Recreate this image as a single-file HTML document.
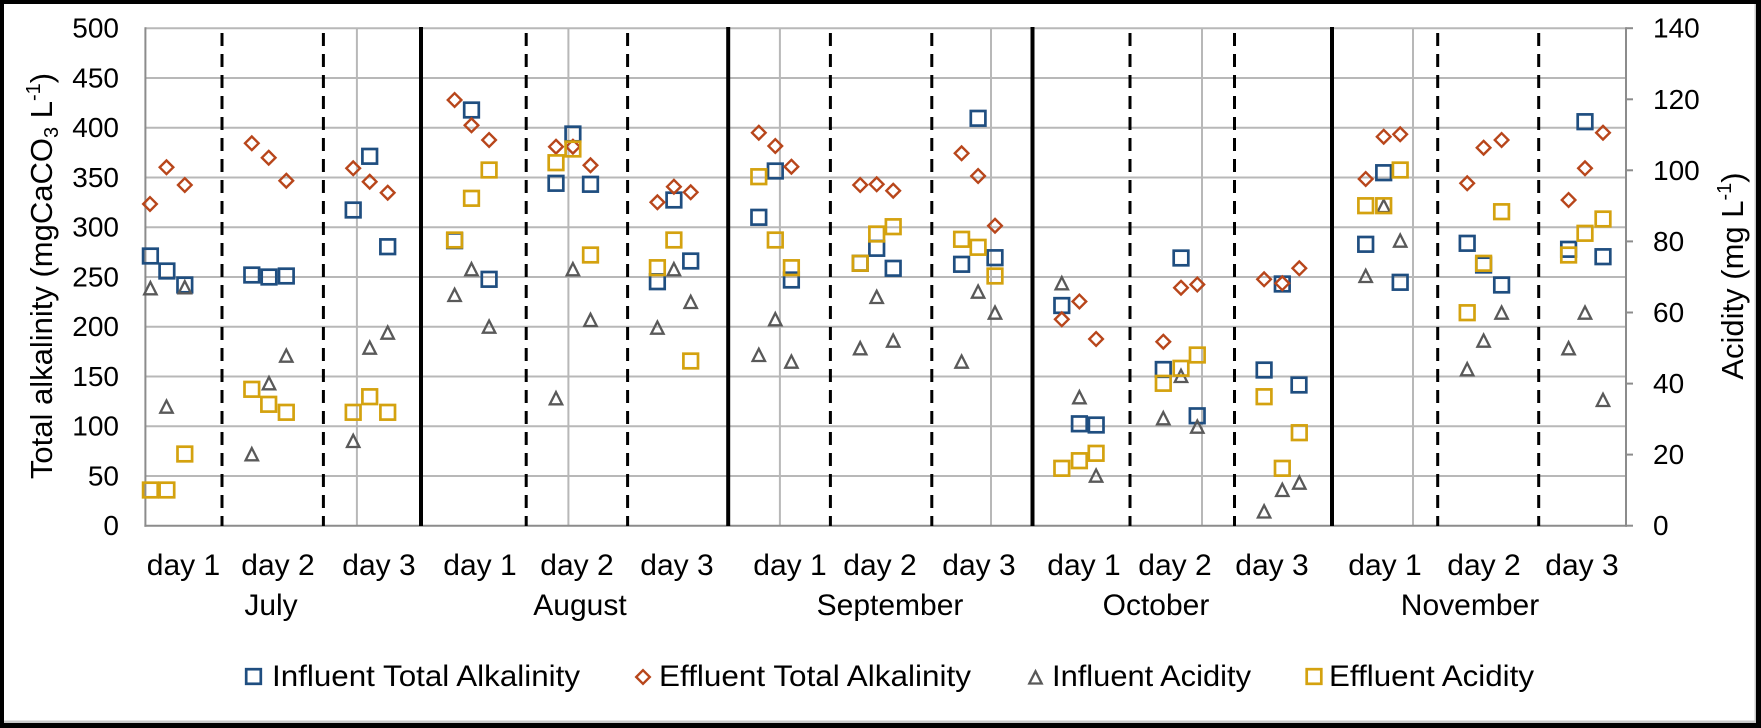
<!DOCTYPE html>
<html><head><meta charset="utf-8">
<style>
html,body{margin:0;padding:0;background:#000;}
svg{display:block;}
text{font-family:"Liberation Sans",Arial,sans-serif;fill:#000;}
</style></head>
<body>
<svg width="1761" height="728" viewBox="0 0 1761 728" xmlns="http://www.w3.org/2000/svg">
<defs>
<g id="bs"><rect x="-7.3" y="-7.3" width="14.6" height="14.6" fill="none" stroke="#1F4E80" stroke-width="2.7"/></g>
<g id="ys"><rect x="-7.3" y="-7.3" width="14.6" height="14.6" fill="none" stroke="#D4A20F" stroke-width="2.7"/></g>
<g id="dm"><path d="M0,-6.8 L6.8,0 L0,6.8 L-6.8,0 Z" fill="none" stroke="#B8461B" stroke-width="2.4"/></g>
<g id="tr"><path d="M0,-6.2 L6.2,6 L-6.2,6 Z" fill="none" stroke="#595959" stroke-width="2.3" stroke-linejoin="miter"/></g>
</defs>
<rect x="0" y="0" width="1761" height="728" fill="#000"/>
<rect x="4" y="4" width="1752" height="719" fill="#fff"/>
<rect x="4" y="720.5" width="1752" height="2.5" fill="#c8c8c8"/>
<rect x="1754.5" y="4" width="1.5" height="719" fill="#c8c8c8"/>

<!-- horizontal gridlines -->
<g stroke="#B8B8B8" stroke-width="2">
<line x1="145.4" y1="28.2" x2="1626" y2="28.2"/>
<line x1="145.4" y1="77.95" x2="1626" y2="77.95"/>
<line x1="145.4" y1="127.7" x2="1626" y2="127.7"/>
<line x1="145.4" y1="177.45" x2="1626" y2="177.45"/>
<line x1="145.4" y1="227.2" x2="1626" y2="227.2"/>
<line x1="145.4" y1="276.95" x2="1626" y2="276.95"/>
<line x1="145.4" y1="326.7" x2="1626" y2="326.7"/>
<line x1="145.4" y1="376.45" x2="1626" y2="376.45"/>
<line x1="145.4" y1="426.2" x2="1626" y2="426.2"/>
<line x1="145.4" y1="475.95" x2="1626" y2="475.95"/>
<!-- vertical gridlines -->
<line x1="356.9" y1="28.2" x2="356.9" y2="525.7"/>
<line x1="568.4" y1="28.2" x2="568.4" y2="525.7"/>
<line x1="779.9" y1="28.2" x2="779.9" y2="525.7"/>
<line x1="991" y1="28.2" x2="991" y2="525.7"/>
<line x1="1202" y1="28.2" x2="1202" y2="525.7"/>
<line x1="1413" y1="28.2" x2="1413" y2="525.7"/>
</g>
<!-- axes -->
<g stroke="#8C8C8C" stroke-width="2">
<line x1="145.4" y1="27.2" x2="145.4" y2="526.7"/>
<line x1="144.4" y1="525.7" x2="1627" y2="525.7"/>
<line x1="1626" y1="27.2" x2="1626" y2="526.7"/>
<line x1="1626" y1="28.2" x2="1633" y2="28.2"/>
<line x1="1626" y1="99.3" x2="1633" y2="99.3"/>
<line x1="1626" y1="170.3" x2="1633" y2="170.3"/>
<line x1="1626" y1="241.4" x2="1633" y2="241.4"/>
<line x1="1626" y1="312.5" x2="1633" y2="312.5"/>
<line x1="1626" y1="383.6" x2="1633" y2="383.6"/>
<line x1="1626" y1="454.6" x2="1633" y2="454.6"/>
<line x1="1626" y1="525.7" x2="1633" y2="525.7"/>
</g>

<!-- month separators -->
<g stroke="#000" stroke-width="4">
<line x1="421" y1="27" x2="421" y2="526"/>
<line x1="728.2" y1="27" x2="728.2" y2="526"/>
<line x1="1032.5" y1="27" x2="1032.5" y2="526"/>
<line x1="1332" y1="27" x2="1332" y2="526"/>
</g>
<g stroke="#000" stroke-width="3" stroke-dasharray="13 8">
<line x1="222" y1="33" x2="222" y2="526"/>
<line x1="323.4" y1="33" x2="323.4" y2="526"/>
<line x1="526.2" y1="33" x2="526.2" y2="526"/>
<line x1="627.6" y1="33" x2="627.6" y2="526"/>
<line x1="830.4" y1="33" x2="830.4" y2="526"/>
<line x1="931.8" y1="33" x2="931.8" y2="526"/>
<line x1="1130" y1="33" x2="1130" y2="526"/>
<line x1="1234.5" y1="33" x2="1234.5" y2="526"/>
<line x1="1437.7" y1="33" x2="1437.7" y2="526"/>
<line x1="1538.7" y1="33" x2="1538.7" y2="526"/>
</g>

<!-- left tick labels -->
<g font-size="28" text-anchor="end">
<text x="119" y="535.2">0</text>
<text x="119" y="485.5">50</text>
<text x="119" y="435.7">100</text>
<text x="119" y="386">150</text>
<text x="119" y="336.2">200</text>
<text x="119" y="286.5">250</text>
<text x="119" y="236.7">300</text>
<text x="119" y="187">350</text>
<text x="119" y="137.2">400</text>
<text x="119" y="87.5">450</text>
<text x="119" y="37.7">500</text>
</g>
<!-- right tick labels -->
<g font-size="28" text-anchor="start">
<text x="1653" y="535.2">0</text>
<text x="1653" y="464.1">20</text>
<text x="1653" y="393.1">40</text>
<text x="1653" y="322">60</text>
<text x="1653" y="250.9">80</text>
<text x="1653" y="179.8">100</text>
<text x="1653" y="108.8">120</text>
<text x="1653" y="37.7">140</text>
</g>

<!-- axis titles -->
<text font-size="31" text-anchor="middle" transform="translate(52,276) rotate(-90)">Total alkalinity (mgCaCO<tspan font-size="20" dy="6">3</tspan><tspan dy="-6"> L</tspan><tspan font-size="20" dy="-12">-1</tspan><tspan dy="12">)</tspan></text>
<text font-size="31" text-anchor="middle" transform="translate(1743,276) rotate(-90)">Acidity (mg L<tspan font-size="20" dy="-12">-1</tspan><tspan dy="12">)</tspan></text>

<!-- day labels -->
<g font-size="30" text-anchor="middle">
<text x="183.5" y="575">day 1</text>
<text x="278" y="575">day 2</text>
<text x="379" y="575">day 3</text>
<text x="480" y="575">day 1</text>
<text x="577" y="575">day 2</text>
<text x="677" y="575">day 3</text>
<text x="790" y="575">day 1</text>
<text x="880" y="575">day 2</text>
<text x="979" y="575">day 3</text>
<text x="1084" y="575">day 1</text>
<text x="1175" y="575">day 2</text>
<text x="1272" y="575">day 3</text>
<text x="1385" y="575">day 1</text>
<text x="1484" y="575">day 2</text>
<text x="1582" y="575">day 3</text>
<text x="271" y="615">July</text>
<text x="580" y="615">August</text>
<text x="890" y="615">September</text>
<text x="1156" y="615">October</text>
<text x="1470" y="615">November</text>
</g>

<!-- legend -->
<use href="#bs" x="253.5" y="676.5"/>
<text x="272" y="686" font-size="30" textLength="308" lengthAdjust="spacingAndGlyphs">Influent Total Alkalinity</text>
<use href="#dm" x="643" y="677"/>
<text x="659" y="686" font-size="30" textLength="312" lengthAdjust="spacingAndGlyphs">Effluent Total Alkalinity</text>
<use href="#tr" x="1035.5" y="677.5"/>
<text x="1052" y="686" font-size="30" textLength="199" lengthAdjust="spacingAndGlyphs">Influent Acidity</text>
<use href="#ys" x="1314" y="676.5"/>
<text x="1329" y="686" font-size="30" textLength="205" lengthAdjust="spacingAndGlyphs">Effluent Acidity</text>

<!-- Influent Total Alkalinity -->
<g>
<use href="#bs" x="150.4" y="256"/><use href="#bs" x="166.9" y="271"/><use href="#bs" x="184.8" y="285"/>
<use href="#bs" x="251.8" y="275"/><use href="#bs" x="269" y="277"/><use href="#bs" x="286.3" y="276"/>
<use href="#bs" x="353.2" y="210"/><use href="#bs" x="369.7" y="156.3"/><use href="#bs" x="387.7" y="246.7"/>
<use href="#bs" x="454.6" y="240.7"/><use href="#bs" x="471.5" y="110"/><use href="#bs" x="489.1" y="279.3"/>
<use href="#bs" x="556" y="183.3"/><use href="#bs" x="572.9" y="134"/><use href="#bs" x="590.5" y="184.3"/>
<use href="#bs" x="657.4" y="281.7"/><use href="#bs" x="673.9" y="200"/><use href="#bs" x="690.7" y="261"/>
<use href="#bs" x="758.8" y="217.3"/><use href="#bs" x="775.3" y="171"/><use href="#bs" x="791.4" y="280"/>
<use href="#bs" x="860.2" y="263.3"/><use href="#bs" x="876.7" y="248.3"/><use href="#bs" x="893.2" y="268.3"/>
<use href="#bs" x="961.6" y="264.3"/><use href="#bs" x="978.1" y="118.3"/><use href="#bs" x="995" y="257.7"/>
<use href="#bs" x="1061.8" y="305.5"/><use href="#bs" x="1079.4" y="423.8"/><use href="#bs" x="1096.2" y="425"/>
<use href="#bs" x="1163.3" y="369.5"/><use href="#bs" x="1181" y="258"/><use href="#bs" x="1197.2" y="415.8"/>
<use href="#bs" x="1264.1" y="370"/><use href="#bs" x="1282.3" y="284"/><use href="#bs" x="1299" y="385"/>
<use href="#bs" x="1365.7" y="244.3"/><use href="#bs" x="1383.7" y="172.7"/><use href="#bs" x="1400.2" y="282.3"/>
<use href="#bs" x="1467.2" y="243.3"/><use href="#bs" x="1483.6" y="265"/><use href="#bs" x="1501.6" y="285"/>
<use href="#bs" x="1568.6" y="249.3"/><use href="#bs" x="1585" y="121.7"/><use href="#bs" x="1603" y="256.7"/>
</g>
<!-- Effluent Total Alkalinity -->
<g>
<use href="#dm" x="150" y="204"/><use href="#dm" x="166.5" y="167.3"/><use href="#dm" x="184.8" y="185"/>
<use href="#dm" x="251.8" y="143.3"/><use href="#dm" x="268.7" y="157.7"/><use href="#dm" x="286.3" y="180.7"/>
<use href="#dm" x="353.2" y="168.3"/><use href="#dm" x="369.7" y="181.7"/><use href="#dm" x="387.7" y="192.7"/>
<use href="#dm" x="454.6" y="100"/><use href="#dm" x="471.5" y="125.3"/><use href="#dm" x="489.1" y="140"/>
<use href="#dm" x="556" y="146.7"/><use href="#dm" x="572.9" y="146.7"/><use href="#dm" x="590.5" y="165.3"/>
<use href="#dm" x="657.4" y="202.3"/><use href="#dm" x="673.9" y="186.7"/><use href="#dm" x="690.7" y="192.3"/>
<use href="#dm" x="758.8" y="132.7"/><use href="#dm" x="775.3" y="146"/><use href="#dm" x="791.4" y="166.7"/>
<use href="#dm" x="860.2" y="185"/><use href="#dm" x="876.7" y="184.3"/><use href="#dm" x="893.2" y="190.7"/>
<use href="#dm" x="961.6" y="153.3"/><use href="#dm" x="978.1" y="176"/><use href="#dm" x="995" y="225.7"/>
<use href="#dm" x="1061.8" y="319.3"/><use href="#dm" x="1079.4" y="301.5"/><use href="#dm" x="1096.1" y="339"/>
<use href="#dm" x="1163.3" y="341.7"/><use href="#dm" x="1181" y="287.7"/><use href="#dm" x="1197.3" y="284.5"/>
<use href="#dm" x="1264.1" y="279.3"/><use href="#dm" x="1282.3" y="283.3"/><use href="#dm" x="1299.3" y="268.3"/>
<use href="#dm" x="1365.7" y="179"/><use href="#dm" x="1383.7" y="136.7"/><use href="#dm" x="1400.2" y="134.3"/>
<use href="#dm" x="1467.2" y="183.3"/><use href="#dm" x="1483.6" y="147.7"/><use href="#dm" x="1501.6" y="140"/>
<use href="#dm" x="1568.6" y="200"/><use href="#dm" x="1585" y="168.3"/><use href="#dm" x="1603" y="132.7"/>
</g>
<!-- Influent Acidity -->
<g>
<use href="#tr" x="150.4" y="288.3"/><use href="#tr" x="166.5" y="406.7"/><use href="#tr" x="184.8" y="287.3"/>
<use href="#tr" x="251.8" y="454.3"/><use href="#tr" x="269" y="383.3"/><use href="#tr" x="286.3" y="355.7"/>
<use href="#tr" x="353.2" y="441"/><use href="#tr" x="369.7" y="347.7"/><use href="#tr" x="387.7" y="332.7"/>
<use href="#tr" x="454.6" y="295"/><use href="#tr" x="471.5" y="269.3"/><use href="#tr" x="489.1" y="326.7"/>
<use href="#tr" x="556" y="398.3"/><use href="#tr" x="572.9" y="269.3"/><use href="#tr" x="590.5" y="320"/>
<use href="#tr" x="657.4" y="327.7"/><use href="#tr" x="673.9" y="269.3"/><use href="#tr" x="690.7" y="302"/>
<use href="#tr" x="758.8" y="355"/><use href="#tr" x="775.3" y="319.3"/><use href="#tr" x="791.4" y="361.7"/>
<use href="#tr" x="860.2" y="348.3"/><use href="#tr" x="876.7" y="297"/><use href="#tr" x="893.2" y="340.7"/>
<use href="#tr" x="961.6" y="361.7"/><use href="#tr" x="978.1" y="291.7"/><use href="#tr" x="995" y="312.7"/>
<use href="#tr" x="1061.8" y="283.3"/><use href="#tr" x="1079.4" y="397.3"/><use href="#tr" x="1096.1" y="475.7"/>
<use href="#tr" x="1163.3" y="418.3"/><use href="#tr" x="1181" y="376"/><use href="#tr" x="1197.3" y="426.7"/>
<use href="#tr" x="1264.1" y="511.5"/><use href="#tr" x="1282.3" y="490"/><use href="#tr" x="1299.3" y="482.7"/>
<use href="#tr" x="1365.7" y="276"/><use href="#tr" x="1383.7" y="206"/><use href="#tr" x="1400.2" y="240.7"/>
<use href="#tr" x="1467.2" y="369.3"/><use href="#tr" x="1483.6" y="340.7"/><use href="#tr" x="1501.6" y="312.7"/>
<use href="#tr" x="1568.6" y="348.3"/><use href="#tr" x="1585" y="312.7"/><use href="#tr" x="1603" y="400"/>
</g>
<!-- Effluent Acidity -->
<g>
<use href="#ys" x="150.4" y="490"/><use href="#ys" x="166.9" y="490"/><use href="#ys" x="184.8" y="454"/>
<use href="#ys" x="251.8" y="389.3"/><use href="#ys" x="268.7" y="404.3"/><use href="#ys" x="286.3" y="412.3"/>
<use href="#ys" x="353.2" y="412.3"/><use href="#ys" x="369.7" y="396.7"/><use href="#ys" x="387.7" y="412.3"/>
<use href="#ys" x="454.6" y="240"/><use href="#ys" x="471.5" y="198.3"/><use href="#ys" x="489.1" y="170"/>
<use href="#ys" x="556" y="162.7"/><use href="#ys" x="572.9" y="149"/><use href="#ys" x="590.5" y="255"/>
<use href="#ys" x="657.4" y="267.7"/><use href="#ys" x="673.9" y="240"/><use href="#ys" x="690.7" y="361"/>
<use href="#ys" x="758.8" y="176.7"/><use href="#ys" x="775.3" y="240"/><use href="#ys" x="791.4" y="267.7"/>
<use href="#ys" x="860.2" y="263.3"/><use href="#ys" x="876.7" y="234"/><use href="#ys" x="893.2" y="226.7"/>
<use href="#ys" x="961.6" y="239.3"/><use href="#ys" x="978.1" y="247.3"/><use href="#ys" x="995" y="276"/>
<use href="#ys" x="1061.8" y="468.3"/><use href="#ys" x="1079.4" y="460.7"/><use href="#ys" x="1096.1" y="453.3"/>
<use href="#ys" x="1163.3" y="383.3"/><use href="#ys" x="1181" y="368.3"/><use href="#ys" x="1197.3" y="355"/>
<use href="#ys" x="1264.1" y="396.7"/><use href="#ys" x="1282.3" y="468.3"/><use href="#ys" x="1299.3" y="432.7"/>
<use href="#ys" x="1365.7" y="205.7"/><use href="#ys" x="1383.7" y="205.7"/><use href="#ys" x="1400.2" y="170"/>
<use href="#ys" x="1467.2" y="312.7"/><use href="#ys" x="1483.6" y="263.3"/><use href="#ys" x="1501.6" y="211.7"/>
<use href="#ys" x="1568.6" y="255"/><use href="#ys" x="1585" y="233.3"/><use href="#ys" x="1603" y="219"/>
</g>
</svg>
</body></html>
